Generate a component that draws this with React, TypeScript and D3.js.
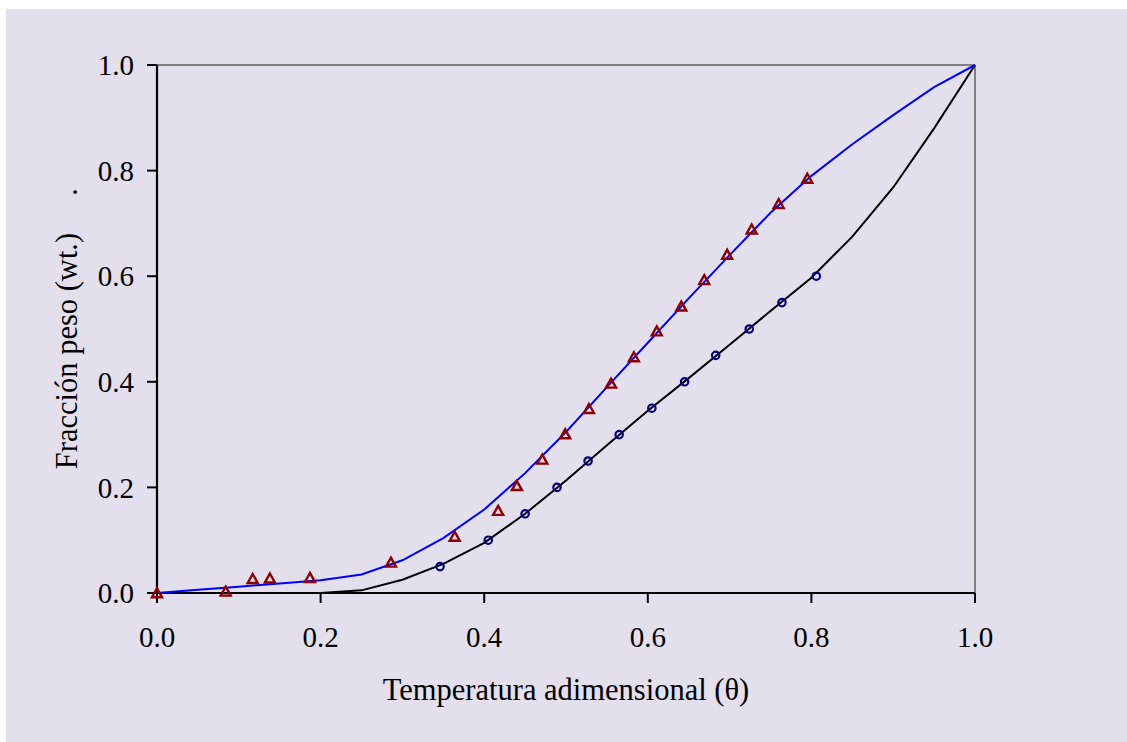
import React from "react";
import * as d3 from "d3";

const lineX = [0, 0.05, 0.1, 0.15, 0.2, 0.25, 0.3, 0.35, 0.4, 0.45, 0.5, 0.55, 0.6, 0.65, 0.7, 0.75, 0.8, 0.85, 0.9, 0.95, 1.0];
const blueLineY = [0, 0.006, 0.012, 0.018, 0.024, 0.035, 0.062, 0.104, 0.158, 0.227, 0.305, 0.39, 0.474, 0.558, 0.64, 0.72, 0.79, 0.85, 0.905, 0.958, 1.0];
const blackLineY = [0, 0, 0, 0, 0, 0.005, 0.025, 0.055, 0.095, 0.15, 0.213, 0.28, 0.345, 0.407, 0.47, 0.534, 0.597, 0.675, 0.768, 0.88, 1.0];

const triX = [0, 0.084, 0.117, 0.138, 0.187, 0.286, 0.364, 0.417, 0.44, 0.471, 0.499, 0.528, 0.555, 0.583, 0.611, 0.641, 0.669, 0.697, 0.727, 0.76, 0.795];
const triY = [0, 0.003, 0.027, 0.028, 0.029, 0.058, 0.107, 0.156, 0.203, 0.253, 0.301, 0.349, 0.397, 0.447, 0.496, 0.543, 0.593, 0.641, 0.689, 0.737, 0.785];

const circX = [0.346, 0.405, 0.45, 0.489, 0.527, 0.565, 0.605, 0.645, 0.683, 0.724, 0.764, 0.806];
const circY = [0.05, 0.1, 0.15, 0.2, 0.25, 0.3, 0.35, 0.4, 0.45, 0.5, 0.55, 0.6];

const xTicks = [0, 0.2, 0.4, 0.6, 0.8, 1.0];
const yTicks = [0, 0.2, 0.4, 0.6, 0.8, 1.0];

const xLabel = "Temperatura adimensional (θ)";
const yLabel = "Fracción peso (wt.)";

export default function App() {
  const W = 1127, H = 742;
  const left = 157, right = 975, top = 65, bottom = 593;
  const x = d3.scaleLinear().domain([0, 1]).range([left, right]);
  const y = d3.scaleLinear().domain([0, 1]).range([bottom, top]);
  const line = d3.line<[number, number]>().x(d => x(d[0])).y(d => y(d[1]));
  const blue = line(lineX.map((v, i) => [v, blueLineY[i]]))!;
  const black = line(lineX.map((v, i) => [v, blackLineY[i]]))!;
  const font = "'Liberation Serif', 'Times New Roman', serif";
  const bg = "#E4DFEC";
  const tri = (cx: number, cy: number) => {
    const w = 5, h = 8.5;
    return `M${cx},${cy - h / 2 - 0.5}L${cx + w},${cy + h / 2}L${cx - w},${cy + h / 2}Z`;
  };
  return (
    <svg width={W} height={H} style={{ position: "absolute", left: 0, top: 0, display: "block" }} fontFamily={font}>
      <rect x={6} y={9} width={W} height={H} fill={bg} />
      {/* frame */}
      <line x1={left} x2={right} y1={top} y2={top} stroke="#808080" strokeWidth={2} />
      <line x1={right} x2={right} y1={top} y2={bottom} stroke="#808080" strokeWidth={2} />
      {/* axes */}
      <line x1={left} x2={left} y1={top} y2={bottom} stroke="#000" strokeWidth={2.2} />
      <line x1={left} x2={right} y1={bottom} y2={bottom} stroke="#000" strokeWidth={2.2} />
      {yTicks.map(t => (
        <g key={"y" + t}>
          <line x1={left - 10} x2={left} y1={y(t)} y2={y(t)} stroke="#000" strokeWidth={2} />
          <text x={left - 23} y={y(t)} dy="0.35em" textAnchor="end" fontSize={29}>{t.toFixed(1)}</text>
        </g>
      ))}
      {xTicks.map(t => (
        <g key={"x" + t}>
          <line x1={x(t)} x2={x(t)} y1={bottom} y2={bottom + 10} stroke="#000" strokeWidth={2} />
          <text x={x(t)} y={647} textAnchor="middle" fontSize={29}>{t.toFixed(1)}</text>
        </g>
      ))}
      <path d={black} fill="none" stroke="#000" strokeWidth={2} />
      <path d={blue} fill="none" stroke="#0000FF" strokeWidth={2} />
      {circX.map((v, i) => (
        <circle key={"c" + i} cx={x(v)} cy={y(circY[i])} r={3.7} fill="none" stroke="#000080" strokeWidth={2.2} />
      ))}
      {triX.map((v, i) => (
        <path key={"t" + i} d={tri(x(v), y(triY[i]))} fill="none" stroke="#8B0000" strokeWidth={2.4} />
      ))}
      <text x={566} y={700} textAnchor="middle" fontSize={30.5}>{xLabel}</text>
      <text transform={`translate(77,351) rotate(-90)`} textAnchor="middle" fontSize={30.5}>{yLabel}</text>
      <text transform={`translate(77,192) rotate(-90)`} textAnchor="middle" fontSize={30.5}>.</text>
    </svg>
  );
}
